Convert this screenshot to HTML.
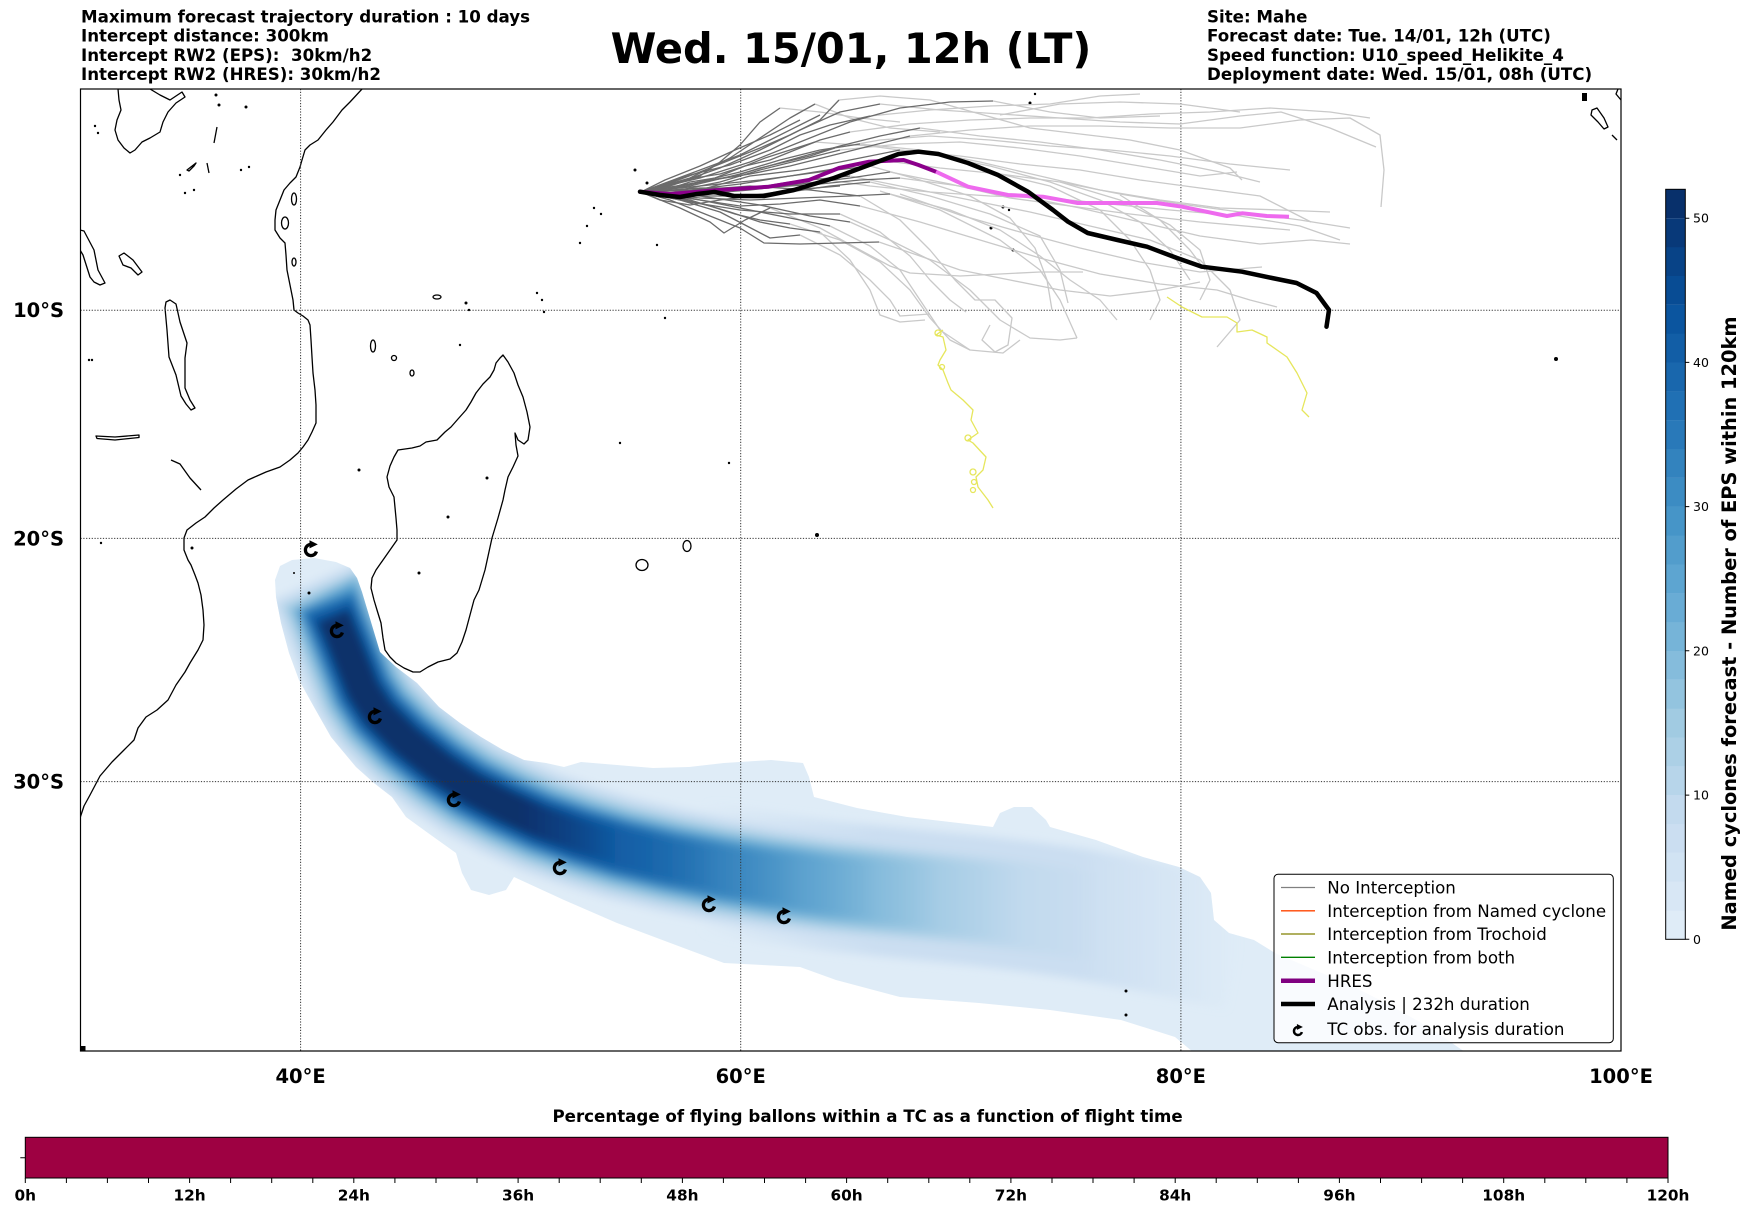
<!DOCTYPE html>
<html><head><meta charset="utf-8"><style>html,body{margin:0;padding:0;background:#fff}svg{display:block}</style></head><body>
<svg xmlns="http://www.w3.org/2000/svg" width="1752" height="1213" viewBox="0 0 1752 1213" font-family="'DejaVu Sans','Liberation Sans',sans-serif">
<defs>
<clipPath id="mapc"><rect x="80.5" y="89" width="1540.5" height="962"/></clipPath>
<clipPath id="swc"><path d="M275,580 L280,566 292,560 314,558 336,562 350,568 357,578 362,592 368,612 374,632 380,652 396,667 417,683 439,707 460,723 481,737 503,750 524,760 546,763 564,767 581,762 617,765 653,768 689,767 724,763 771,760 803,763 809,777 814,797 857,808 907,817 993,827 1000,813 1014,807 1032,807 1046,820 1050,827 1096,840 1143,857 1179,867 1200,877 1211,893 1214,920 1229,933 1254,940 1275,953 1310,968 1350,985 1390,1005 1430,1028 1465,1052 1193,1052 1175,1037 1121,1020 1050,1010 979,1003 900,997 836,980 800,967 724,963 689,950 617,923 564,900 514,877 506,890 489,895 471,890 462,873 456,853 428,833 406,817 392,797 374,783 356,767 331,737 314,707 299,680 289,653 281,623 276,597 Z"/></clipPath>
<filter id="bl" filterUnits="userSpaceOnUse" x="200" y="480" width="1150" height="620"><feGaussianBlur stdDeviation="4.5"/></filter>
<linearGradient id="g2" gradientUnits="userSpaceOnUse" x1="700" y1="0" x2="1240" y2="0"><stop offset="0" stop-color="#cbdef1" stop-opacity="0"/><stop offset="0.33" stop-color="#cbdef1"/><stop offset="0.7" stop-color="#cbdef1"/><stop offset="1" stop-color="#cbdef1" stop-opacity="0"/></linearGradient>
<linearGradient id="g3" gradientUnits="userSpaceOnUse" x1="860" y1="0" x2="1100" y2="0"><stop offset="0" stop-color="#acd0e6"/><stop offset="1" stop-color="#acd0e6" stop-opacity="0"/></linearGradient>
<linearGradient id="g4" gradientUnits="userSpaceOnUse" x1="780" y1="0" x2="1020" y2="0"><stop offset="0" stop-color="#85bcdc"/><stop offset="1" stop-color="#85bcdc" stop-opacity="0"/></linearGradient>
<linearGradient id="g5" gradientUnits="userSpaceOnUse" x1="720" y1="0" x2="940" y2="0"><stop offset="0" stop-color="#5da5d1"/><stop offset="1" stop-color="#5da5d1" stop-opacity="0"/></linearGradient>
<linearGradient id="g6" gradientUnits="userSpaceOnUse" x1="620" y1="0" x2="880" y2="0"><stop offset="0" stop-color="#3383be"/><stop offset="1" stop-color="#3383be" stop-opacity="0"/></linearGradient>
<linearGradient id="g7" gradientUnits="userSpaceOnUse" x1="570" y1="0" x2="800" y2="0"><stop offset="0" stop-color="#1967ad"/><stop offset="1" stop-color="#1967ad" stop-opacity="0"/></linearGradient>
<linearGradient id="g8" gradientUnits="userSpaceOnUse" x1="560" y1="0" x2="720" y2="0"><stop offset="0" stop-color="#0b559f"/><stop offset="1" stop-color="#0b559f" stop-opacity="0"/></linearGradient>
<linearGradient id="g9" gradientUnits="userSpaceOnUse" x1="520" y1="0" x2="620" y2="0"><stop offset="0" stop-color="#08306b"/><stop offset="1" stop-color="#08306b" stop-opacity="0"/></linearGradient>
<g id="tc"><path d="M5.4,1.5 A5.6,5.6 0 1 1 -0.5,-5.6" fill="none" stroke="#000" stroke-width="3.3"/><path d="M-1.5,-9.8 L6.8,-5.6 L-1.5,-1.6 Z" fill="#000"/></g>
</defs>
<rect width="1752" height="1213" fill="#fff"/>

<!-- Header texts -->
<g font-weight="bold" font-size="16.67" fill="#000" style="white-space:pre">
<text x="81" y="22.5">Maximum forecast trajectory duration : 10 days</text>
<text x="81" y="41.7">Intercept distance: 300km</text>
<text x="81" y="60.9" xml:space="preserve">Intercept RW2 (EPS):  30km/h2</text>
<text x="81" y="80.1">Intercept RW2 (HRES): 30km/h2</text>
<text x="1207" y="22.5">Site: Mahe</text>
<text x="1207" y="41.7">Forecast date: Tue. 14/01, 12h (UTC)</text>
<text x="1207" y="60.9">Speed function: U10_speed_Helikite_4</text>
<text x="1207" y="80.1">Deployment date: Wed. 15/01, 08h (UTC)</text>
</g>
<text x="851" y="63" text-anchor="middle" font-weight="bold" font-size="41.5">Wed. 15/01, 12h (LT)</text>

<g clip-path="url(#mapc)">
<!-- Swath -->
<path fill="#dfecf7" d="M275,580 L280,566 292,560 314,558 336,562 350,568 357,578 362,592 368,612 374,632 380,652 396,667 417,683 439,707 460,723 481,737 503,750 524,760 546,763 564,767 581,762 617,765 653,768 689,767 724,763 771,760 803,763 809,777 814,797 857,808 907,817 993,827 1000,813 1014,807 1032,807 1046,820 1050,827 1096,840 1143,857 1179,867 1200,877 1211,893 1214,920 1229,933 1254,940 1275,953 1310,968 1350,985 1390,1005 1430,1028 1465,1052 1193,1052 1175,1037 1121,1020 1050,1010 979,1003 900,997 836,980 800,967 724,963 689,950 617,923 564,900 514,877 506,890 489,895 471,890 462,873 456,853 428,833 406,817 392,797 374,783 356,767 331,737 314,707 299,680 289,653 281,623 276,597 Z"/>
<g clip-path="url(#swc)">
<g filter="url(#bl)" fill="none" stroke-linejoin="round" stroke-linecap="butt">
<path stroke="#cbdef1" stroke-width="104" d="M318,580 L327,600 336,623 347,650 363,690 378,713 405,740 440,768 470,788 505,806 540,822 580,836 620,848 670,860 720,870 770,878 830,886 880,891 900,893"/>
<path stroke="url(#g2)" stroke-width="130" d="M700,868 L720,870 770,878 830,886 880,891 930,896 980,901 1030,907 1080,914 1130,923 1180,933 1240,946"/>
<path stroke="url(#g3)" stroke-width="88" d="M321,587 L327,600 336,623 347,650 363,690 378,713 405,740 440,768 470,788 505,806 540,822 580,836 620,848 670,860 720,870 770,878 830,886 880,891 930,896 980,901 1030,907 1080,914 1130,923"/>
<path stroke="url(#g4)" stroke-width="76" d="M323,592 L327,600 336,623 347,650 363,690 378,713 405,740 440,768 470,788 505,806 540,822 580,836 620,848 670,860 720,870 770,878 830,886 880,891 930,896 980,901 1030,907"/>
<path stroke="url(#g5)" stroke-width="66" d="M325,596 L327,600 336,623 347,650 363,690 378,713 405,740 440,768 470,788 505,806 540,822 580,836 620,848 670,860 720,870 770,878 830,886 880,891 930,896 980,901"/>
<path stroke="url(#g6)" stroke-width="58" d="M327,600 L336,623 347,650 363,690 378,713 405,740 440,768 470,788 505,806 540,822 580,836 620,848 670,860 720,870 770,878 830,886 880,891 930,896"/>
<path stroke="url(#g7)" stroke-width="50" d="M329,605 L336,623 347,650 363,690 378,713 405,740 440,768 470,788 505,806 540,822 580,836 620,848 670,860 720,870 770,878 830,886"/>
<path stroke="url(#g8)" stroke-width="42" d="M331,610 L336,623 347,650 363,690 378,713 405,740 440,768 470,788 505,806 540,822 580,836 620,848 670,860 720,870 740,874"/>
<path stroke="url(#g9)" stroke-width="34" d="M333,616 L336,623 347,650 363,690 378,713 405,740 440,768 470,788 505,806 540,822 580,836 620,848 640,853"/>
</g>
</g>

<!-- Coastlines -->
<g fill="none" stroke="#000" stroke-width="1.3" stroke-linejoin="round">
<path d="M362,89 L350,102 342,110 333,122 326,130 318,140 310,145 305,150 302,160 300,167 296,177 290,183 284,190 280,200 276,210 275,220 275,230 280,238 285,243 286,255 287,270 289,280 291,290 293,300 294,310 298,313 303,316 308,320 310,325 311,340 312,357 313,373 315,390 316,405 316,423 312,432 308,440 303,447 298,453 290,460 280,467 266,472 257,476 248,480 236,489 223,500 214,508 205,517 196,523 187,530 184,538 184,550 188,560 191,565 195,575 198,583 201,595 203,610 204,625 203,640 198,650 190,663 185,672 176,685 168,700 157,710 146,717 138,728 134,740 124,750 112,762 100,776 90,795 84,806 80,818"/>
<path d="M503,355 L508,362 514,373 518,385 523,397 527,412 530,427 528,440 524,444 518,440 515,433 516,445 518,456 513,467 508,477 505,490 503,500 498,518 492,538 485,570 479,590 474,600 470,615 466,630 462,642 457,653 450,659 438,662 428,667 420,672 413,672 404,668 396,663 390,657 385,650 383,638 381,623 377,610 374,600 371,588 372,578 376,570 383,560 390,550 397,540 397,530 396,518 394,497 389,487 387,477 390,466 394,457 398,450 412,448 420,446 426,442 437,440 445,432 451,427 458,419 466,410 471,402 476,393 483,384 490,377 494,370 496,363 500,358 Z"/>
<path d="M118,89 L150,89 160,95 170,100 182,92 185,97 176,103 168,112 163,122 160,132 150,138 142,142 135,150 130,153 124,148 118,140 115,130 117,120 121,110 119,100 Z"/>
<path d="M80,230 L84,231 94,250 98,270 105,283 100,285 94,282 90,277 83,255 80,250"/>
<path d="M166,302 L170,300 176,304 180,322 187,343 185,358 185,388 190,400 195,408 191,410 186,404 181,396 176,375 169,357 167,330 165,308 Z"/>
<path d="M119,256 L124,253 133,260 142,272 138,275 131,268 123,265 Z"/>
<path d="M96,436 L115,437 139,435 139,437.5 115,440 97,438.5 Z"/>
<path d="M171,460 L180,464 190,478 201,490"/>
<path d="M187,170 L196,163 194,166 189,171 Z"/>
<path d="M207,163 L209,173"/>
<path d="M217,127 L214,143"/>
<ellipse cx="294" cy="199" rx="2.5" ry="6"/>
<ellipse cx="285" cy="223" rx="3.5" ry="6"/>
<ellipse cx="294" cy="262" rx="2" ry="4"/>
<ellipse cx="373" cy="346" rx="2.5" ry="6"/>
<ellipse cx="394" cy="358" rx="2.5" ry="2.5"/>
<ellipse cx="412" cy="373" rx="2" ry="3"/>
<ellipse cx="437" cy="297" rx="4" ry="2"/>
<ellipse cx="642" cy="565" rx="6" ry="5.5"/>
<ellipse cx="687" cy="546" rx="4" ry="5.5"/>
<path d="M1592,110 L1597,108 1604,118 1608,127 1604,129 1598,122 1591,115 Z"/>
<path d="M1618,89 L1616,94 1621,100"/>
<path d="M1612,135 L1617,140"/>
</g>
<g fill="#000">
<rect x="1582" y="93" width="5" height="8"/>
<circle cx="1556" cy="359" r="2"/>
<circle cx="817" cy="535" r="2"/>
<circle cx="1126" cy="991" r="1.5"/><circle cx="1126" cy="1015" r="1.5"/>
<circle cx="1030" cy="103" r="1.5"/><circle cx="1035" cy="94" r="1.2"/>
<circle cx="1003" cy="207" r="1.5"/><circle cx="991" cy="228" r="1.5"/><circle cx="1013" cy="250" r="1.5"/><circle cx="1009" cy="210" r="1.2"/>
<circle cx="635" cy="170" r="1.5"/><circle cx="647" cy="183" r="1.5"/><circle cx="657" cy="245" r="1.2"/><circle cx="665" cy="318" r="1.2"/><circle cx="729" cy="463" r="1.2"/>
<circle cx="594" cy="208" r="1.2"/><circle cx="601" cy="214" r="1.2"/><circle cx="587" cy="226" r="1.2"/><circle cx="580" cy="243" r="1.2"/>
<circle cx="537" cy="293" r="1.2"/><circle cx="542" cy="300" r="1.2"/><circle cx="544" cy="312" r="1.2"/>
<circle cx="466" cy="303" r="1.5"/><circle cx="469" cy="310" r="1.2"/><circle cx="460" cy="345" r="1.2"/>
<circle cx="620" cy="443" r="1.2"/><circle cx="359" cy="470" r="1.5"/><circle cx="309" cy="593" r="1.5"/><circle cx="294" cy="573" r="1"/>
<circle cx="448" cy="517" r="1.5"/><circle cx="487" cy="478" r="1.5"/><circle cx="419" cy="573" r="1.5"/>
<circle cx="216" cy="95" r="1.5"/><circle cx="219" cy="105" r="1.5"/><circle cx="246" cy="107" r="1.5"/><circle cx="241" cy="170" r="1.2"/><circle cx="249" cy="167" r="1.2"/>
<circle cx="180" cy="175" r="1.2"/><circle cx="185" cy="193" r="1.2"/><circle cx="194" cy="190" r="1.2"/><circle cx="95" cy="126" r="1.2"/><circle cx="98" cy="133" r="1.2"/>
<circle cx="89" cy="360" r="1.2"/><circle cx="92" cy="360" r="1.2"/><circle cx="192" cy="548" r="1.5"/><circle cx="101" cy="543" r="1.2"/>
<rect x="80.5" y="1046" width="5" height="5"/>
</g>

<!-- Gridlines -->
<g stroke="#333" stroke-width="1" stroke-dasharray="1.2,1.6" fill="none">
<path d="M300.6,89 V1051 M740.7,89 V1051 M1180.9,89 V1051 M80.5,310.2 H1621 M80.5,538.4 H1621 M80.5,781.6 H1621"/>
</g>

<!-- Light gray trajectories -->
<g fill="none" stroke="#c9c9c9" stroke-width="1.3" stroke-linejoin="round">
<polyline points="839,100 880,96 930,100 980,114 1030,128 1080,134 1130,140 1180,150 1230,168 1242,180"/>
<polyline points="880,104 940,110 1000,114 1060,118 1120,122 1180,124 1240,116 1281,112 1330,128 1376,147"/>
<polyline points="920,128 980,136 1040,142 1100,150 1160,160 1220,172 1260,182"/>
<polyline points="880,160 940,168 1000,174 1060,182 1120,194 1180,204 1240,212 1300,220 1350,228"/>
<polyline points="890,172 950,184 1010,198 1070,206 1130,214 1200,222 1290,230"/>
<polyline points="890,194 950,210 1000,230 1040,256 1070,280 1100,300 1117,320"/>
<polyline points="840,214 880,232 910,256 930,280 950,300 966,312"/>
<polyline points="770,208 820,228 860,250 890,266 910,273 960,276 1000,274 1040,272 1083,272"/>
<polyline points="993,101 1050,112 1100,118 1160,116"/>
<polyline points="815,104 850,118 890,128 940,132"/>
<polyline points="870,166 920,180 970,196 1010,218 1035,248 1047,280 1052,310"/>
<polyline points="860,196 900,220 930,250 955,280 975,300 995,300 1012,318 1008,345 995,352 982,340 990,325"/>
<polyline points="850,222 890,240 930,260 970,290 1000,320 1030,338 1060,340 1077,338"/>
<polyline points="879,242 920,256 960,270 1010,280 1060,290 1110,296 1160,290 1200,282"/>
<polyline points="840,150 900,144 960,142 1020,148 1080,156 1140,166 1200,176 1237,172"/>
<polyline points="860,144 920,150 980,162 1040,176 1100,190 1160,200 1220,208 1280,210 1330,212"/>
<polyline points="900,150 960,156 1020,164 1080,170 1140,180 1200,188 1260,196 1311,222"/>
<polyline points="870,182 930,196 990,214 1040,236 1060,270 1068,303"/>
<polyline points="830,226 870,246 900,270 920,300 940,330 970,350 1003,353 1020,340"/>
<polyline points="860,206 920,222 980,240 1040,258 1100,274 1160,284 1217,290 1250,300 1277,307"/>
<polyline points="910,136 970,130 1030,126 1100,126 1170,128 1240,128 1300,120 1350,118 1380,135 1384,170 1381,207"/>
<polyline points="850,176 910,188 970,200 1030,212 1090,226 1150,240 1200,260 1230,290 1240,320 1217,347"/>
<polyline points="900,178 960,186 1020,196 1080,208 1140,222 1200,236 1260,244 1311,240 1350,244"/>
<polyline points="800,235 840,255 870,280 890,300 900,316 930,314"/>
<polyline points="820,232 850,260 870,290 880,315 900,322 925,320"/>
<polyline points="1000,115 1060,104 1120,102 1180,104 1240,112"/>
<polyline points="870,116 930,110 990,106 1050,104 1100,96 1140,94"/>
<polyline points="780,108 820,112 860,118 900,122"/>
<polyline points="1060,182 1120,200 1170,225 1200,250 1210,280 1200,300"/>
<polyline points="1120,195 1160,220 1190,250 1205,270"/>
<polyline points="880,191 940,210 1000,240 1040,270 1060,300 1077,338"/>
<polyline points="900,194 960,215 1020,232 1080,248 1140,262 1200,272 1262,267"/>
<polyline points="835,148 880,140 930,136 990,140 1050,146 1110,150 1170,156 1230,164 1290,170"/>
<polyline points="815,178 870,186 930,192 990,196 1050,198 1110,204 1170,210 1240,216 1300,226 1340,240"/>
<polyline points="790,224 840,240 880,262 910,290 930,318 950,340 970,350"/>
<polyline points="850,132 910,124 970,120 1030,118 1090,118 1150,114 1210,112 1270,108 1330,112 1370,118"/>
<polyline points="815,142 870,146 930,154 990,166 1050,182 1100,200 1140,222 1170,250 1190,280"/>
<polyline points="1000,174 1050,186 1100,210 1130,240 1150,270 1160,300 1150,320"/>
</g>

<!-- Dark gray trajectories -->
<g fill="none" stroke="#6b6b6b" stroke-width="1.3" stroke-linejoin="round">
<polyline points="641,192 670,183 700,172 730,160 760,148 790,135 820,120 839,100"/>
<polyline points="641,192 680,182 720,168 760,150 800,130 840,112 880,104"/>
<polyline points="641,192 690,186 740,174 790,160 840,146 880,136 920,128"/>
<polyline points="641,192 690,190 740,184 790,176 840,168 880,160"/>
<polyline points="641,192 700,194 750,190 800,184 850,178 890,172"/>
<polyline points="641,192 700,198 750,200 800,198 850,196 890,194"/>
<polyline points="641,192 690,202 740,210 790,214 840,214"/>
<polyline points="641,192 680,208 710,222 724,233 745,220 770,208"/>
<polyline points="641,192 670,200 700,212 740,228 764,243 800,244 840,243 879,242"/>
<polyline points="641,192 700,178 750,162 800,142 850,122 900,108 950,102 993,101"/>
<polyline points="641,192 690,178 730,158 760,138 790,118 815,104"/>
<polyline points="641,192 700,186 760,180 820,172 870,166"/>
<polyline points="641,192 695,190 750,186 810,190 860,196"/>
<polyline points="641,192 700,196 760,205 810,216 850,222"/>
<polyline points="641,192 680,190 720,182 760,170 800,160 840,150"/>
<polyline points="641,192 690,184 740,172 780,160 820,150 860,144"/>
<polyline points="641,192 700,190 750,176 800,170 850,160 900,150"/>
<polyline points="641,192 690,196 740,196 790,192 830,186 870,182"/>
<polyline points="641,192 680,196 720,204 760,212 800,220 830,226"/>
<polyline points="641,192 700,200 740,206 780,204 820,200 860,206"/>
<polyline points="641,192 670,186 700,176 720,162 740,145 760,122 780,108"/>
<polyline points="641,192 700,182 750,174 790,166 830,156 870,146 910,136"/>
<polyline points="641,192 690,194 730,190 770,186 810,180 850,176"/>
<polyline points="641,192 690,200 730,212 760,222 790,228 820,232"/>
<polyline points="641,192 700,188 760,188 820,184 860,180 900,178"/>
<polyline points="641,192 680,200 720,212 745,225 770,238 800,235"/>
<polyline points="641,192 690,175 730,165 770,150 800,135 830,125 870,116"/>
<polyline points="641,192 700,170 740,155 770,140 800,125 820,115"/>
<polyline points="641,192 660,200 690,205 720,200 750,196 790,190 840,186"/>
<polyline points="641,192 665,180 700,166 735,150 770,135 800,120"/>
<polyline points="641,192 660,188 685,186 710,180 735,176 760,168 785,162 810,156 835,148"/>
<polyline points="641,192 665,194 690,190 715,194 740,190 765,186 790,182 815,178"/>
<polyline points="641,192 660,196 685,200 710,206 735,214 760,220 790,224"/>
<polyline points="641,192 670,184 695,178 720,174 745,166 770,160 795,150 820,140 850,132"/>
<polyline points="641,192 665,190 690,182 715,178 740,168 765,158 790,150 815,142"/>
</g>

<!-- Yellow -->
<g fill="none" stroke="#e6e65c" stroke-width="1.3" stroke-linejoin="round">
<polyline points="943,330 936,335 943,337 946,350 940,360 938,365 943,370 948,383 951,390 963,400 973,410 971,420 978,433 968,440 973,443 986,457 983,470 976,477 978,487 988,500 993,508"/>
<circle cx="938" cy="333" r="3"/><circle cx="942" cy="367" r="2.5"/><circle cx="968" cy="438" r="3"/><circle cx="973" cy="472" r="3"/><circle cx="974" cy="482" r="2.5"/><circle cx="973" cy="490" r="2.5"/>
<polyline points="1167,297 1182,307 1202,317 1227,317 1237,323 1237,332 1252,330 1267,337 1267,343 1287,357 1297,373 1307,393 1302,410 1309,417"/>
</g>

<!-- HRES -->
<polyline fill="none" stroke="#8b008b" stroke-width="4" stroke-linejoin="round" stroke-linecap="round" points="640,191.7 670,194 695,192 719.5,190 769,186.7 809,180 839,168 869,161.7 903.6,160 918.5,165 936,171.7"/>
<polyline fill="none" stroke="#ee6aee" stroke-width="4" stroke-linejoin="round" stroke-linecap="butt" points="936,171.7 968,186.7 1008,195 1043,196.7 1077.7,203 1117.5,203 1157,203 1182,206.7 1227,216 1242,213.3 1266.8,216 1289,216.7"/>
<!-- Analysis -->
<polyline fill="none" stroke="#000" stroke-width="4.5" stroke-linejoin="round" stroke-linecap="round" points="640,191.7 660,195 680,197 697,194 714.5,192 734,196 764,196 794,190 834,178 869,165 898.6,154 918.5,151.7 938.4,154 968,163 998,175 1028,191.7 1053,210 1068,221.7 1087.7,233 1117.5,240 1147,246.7 1177,258 1202,266.7 1242,271.7 1272,278 1296.6,283 1316.5,293 1329,310 1326.5,326.7"/>

<!-- TC markers -->
<use href="#tc" x="311" y="550"/>
<use href="#tc" x="337" y="631"/>
<use href="#tc" x="375" y="717"/>
<use href="#tc" x="454" y="800"/>
<use href="#tc" x="560" y="868"/>
<use href="#tc" x="709" y="905"/>
<use href="#tc" x="784" y="917"/>

<!-- Legend -->
<rect x="1274" y="874.3" width="339.3" height="168.4" rx="4" fill="#fff" fill-opacity="0.8" stroke="#000" stroke-width="1"/>
<g fill="none">
<line x1="1281" x2="1315" y1="887.5" y2="887.5" stroke="#808080" stroke-width="1.3"/>
<line x1="1281" x2="1315" y1="910.8" y2="910.8" stroke="#ff4500" stroke-width="1.3"/>
<line x1="1281" x2="1315" y1="934" y2="934" stroke="#808000" stroke-width="1.3"/>
<line x1="1281" x2="1315" y1="957.3" y2="957.3" stroke="#008000" stroke-width="1.3"/>
<line x1="1281" x2="1315" y1="980.7" y2="980.7" stroke="#800080" stroke-width="4.5"/>
<line x1="1281" x2="1315" y1="1004" y2="1004" stroke="#000" stroke-width="4.5"/>
</g>
<g transform="translate(1298,1031) scale(0.72)"><path d="M5.4,1.5 A5.6,5.6 0 1 1 -0.5,-5.6" fill="none" stroke="#000" stroke-width="3.5"/><path d="M-1.5,-9.8 L6.8,-5.6 L-1.5,-1.6 Z" fill="#000"/></g>
<g font-size="16.67" fill="#000">
<text x="1327.3" y="893.6">No Interception</text>
<text x="1327.3" y="916.9">Interception from Named cyclone</text>
<text x="1327.3" y="940.2">Interception from Trochoid</text>
<text x="1327.3" y="963.5">Interception from both</text>
<text x="1327.3" y="986.8">HRES</text>
<text x="1327.3" y="1010.1">Analysis | 232h duration</text>
<text x="1327.3" y="1034.8">TC obs. for analysis duration</text>
</g>
</g>

<!-- Map frame -->
<rect x="80.5" y="89" width="1540.5" height="962" fill="none" stroke="#000" stroke-width="1.2"/>

<!-- Axis labels -->
<g font-weight="bold" font-size="19.5" fill="#000">
<text x="300.6" y="1083" text-anchor="middle">40°E</text>
<text x="740.7" y="1083" text-anchor="middle">60°E</text>
<text x="1180.9" y="1083" text-anchor="middle">80°E</text>
<text x="1621" y="1083" text-anchor="middle">100°E</text>
<text x="64" y="317.2" text-anchor="end">10°S</text>
<text x="64" y="545.4" text-anchor="end">20°S</text>
<text x="64" y="788.6" text-anchor="end">30°S</text>
</g>

<!-- Right colorbar -->
<g>
<rect x="1665.7" y="910.45" width="19.6" height="29" fill="#dfecf7"/>
<rect x="1665.7" y="881.6" width="19.6" height="29" fill="#d8e7f5"/>
<rect x="1665.7" y="852.76" width="19.6" height="29" fill="#d1e3f3"/>
<rect x="1665.7" y="823.9" width="19.6" height="29" fill="#cbdef1"/>
<rect x="1665.7" y="795.07" width="19.6" height="29" fill="#c3daee"/>
<rect x="1665.7" y="766.2" width="19.6" height="29" fill="#b7d5ea"/>
<rect x="1665.7" y="737.4" width="19.6" height="29" fill="#acd0e6"/>
<rect x="1665.7" y="708.5" width="19.6" height="29" fill="#a1cbe2"/>
<rect x="1665.7" y="679.7" width="19.6" height="29" fill="#93c4df"/>
<rect x="1665.7" y="650.8" width="19.6" height="29" fill="#85bcdc"/>
<rect x="1665.7" y="622.0" width="19.6" height="29" fill="#76b4d8"/>
<rect x="1665.7" y="593.1" width="19.6" height="29" fill="#69acd5"/>
<rect x="1665.7" y="564.3" width="19.6" height="29" fill="#5da5d1"/>
<rect x="1665.7" y="535.5" width="19.6" height="29" fill="#529dcc"/>
<rect x="1665.7" y="506.6" width="19.6" height="29" fill="#4695c8"/>
<rect x="1665.7" y="477.8" width="19.6" height="29" fill="#3c8cc3"/>
<rect x="1665.7" y="448.9" width="19.6" height="29" fill="#3383be"/>
<rect x="1665.7" y="420.1" width="19.6" height="29" fill="#2979b9"/>
<rect x="1665.7" y="391.2" width="19.6" height="29" fill="#2070b4"/>
<rect x="1665.7" y="362.4" width="19.6" height="29" fill="#1967ad"/>
<rect x="1665.7" y="333.5" width="19.6" height="29" fill="#125ea6"/>
<rect x="1665.7" y="304.7" width="19.6" height="29" fill="#0b559f"/>
<rect x="1665.7" y="275.8" width="19.6" height="29" fill="#084c94"/>
<rect x="1665.7" y="247.0" width="19.6" height="29" fill="#084387"/>
<rect x="1665.7" y="218.2" width="19.6" height="29" fill="#083979"/>
<rect x="1665.7" y="189.3" width="19.6" height="28.9" fill="#08306b"/>
<rect x="1665.7" y="189.3" width="19.6" height="750" fill="none" stroke="#000" stroke-width="1"/>
<path d="M1685.3,939.3 h4 M1685.3,795.1 h4 M1685.3,650.8 h4 M1685.3,506.6 h4 M1685.3,362.4 h4 M1685.3,218.2 h4" stroke="#000" stroke-width="1"/>
<g font-size="12.5" fill="#000">
<text x="1693" y="943.8">0</text>
<text x="1693" y="799.6">10</text>
<text x="1693" y="655.3">20</text>
<text x="1693" y="511.1">30</text>
<text x="1693" y="366.9">40</text>
<text x="1693" y="222.7">50</text>
</g>
<text transform="translate(1736,623.5) rotate(-90)" text-anchor="middle" font-weight="bold" font-size="19.4">Named cyclones forecast - Number of EPS within 120km</text>
</g>

<!-- Bottom colorbar -->
<text x="867.6" y="1122" text-anchor="middle" font-weight="bold" font-size="16.67">Percentage of flying ballons within a TC as a function of flight time</text>
<rect x="25.3" y="1137.3" width="1642.7" height="40.7" fill="#9e0142" stroke="#000" stroke-width="1"/>
<path stroke="#000" stroke-width="1" d="M20.3,1157.7 h5 M25.3,1178 v5 M66.4,1178 v5 M107.4,1178 v5 M148.5,1178 v5 M189.6,1178 v5 M230.6,1178 v5 M271.7,1178 v5 M312.8,1178 v5 M353.8,1178 v5 M394.9,1178 v5 M436,1178 v5 M477,1178 v5 M518.1,1178 v5 M559.2,1178 v5 M600.2,1178 v5 M641.3,1178 v5 M682.4,1178 v5 M723.4,1178 v5 M764.5,1178 v5 M805.6,1178 v5 M846.6,1178 v5 M887.7,1178 v5 M928.8,1178 v5 M969.8,1178 v5 M1010.9,1178 v5 M1052,1178 v5 M1093,1178 v5 M1134.1,1178 v5 M1175.2,1178 v5 M1216.2,1178 v5 M1257.3,1178 v5 M1298.4,1178 v5 M1339.4,1178 v5 M1380.5,1178 v5 M1421.6,1178 v5 M1462.6,1178 v5 M1503.7,1178 v5 M1544.8,1178 v5 M1585.8,1178 v5 M1626.9,1178 v5 M1668,1178 v5"/>
<g font-weight="bold" font-size="15.3" fill="#000" text-anchor="middle">
<text x="25.3" y="1200.5">0h</text>
<text x="189.6" y="1200.5">12h</text>
<text x="353.8" y="1200.5">24h</text>
<text x="518.1" y="1200.5">36h</text>
<text x="682.4" y="1200.5">48h</text>
<text x="846.6" y="1200.5">60h</text>
<text x="1010.9" y="1200.5">72h</text>
<text x="1175.2" y="1200.5">84h</text>
<text x="1339.4" y="1200.5">96h</text>
<text x="1503.7" y="1200.5">108h</text>
<text x="1668" y="1200.5">120h</text>
</g>
</svg>
</body></html>
